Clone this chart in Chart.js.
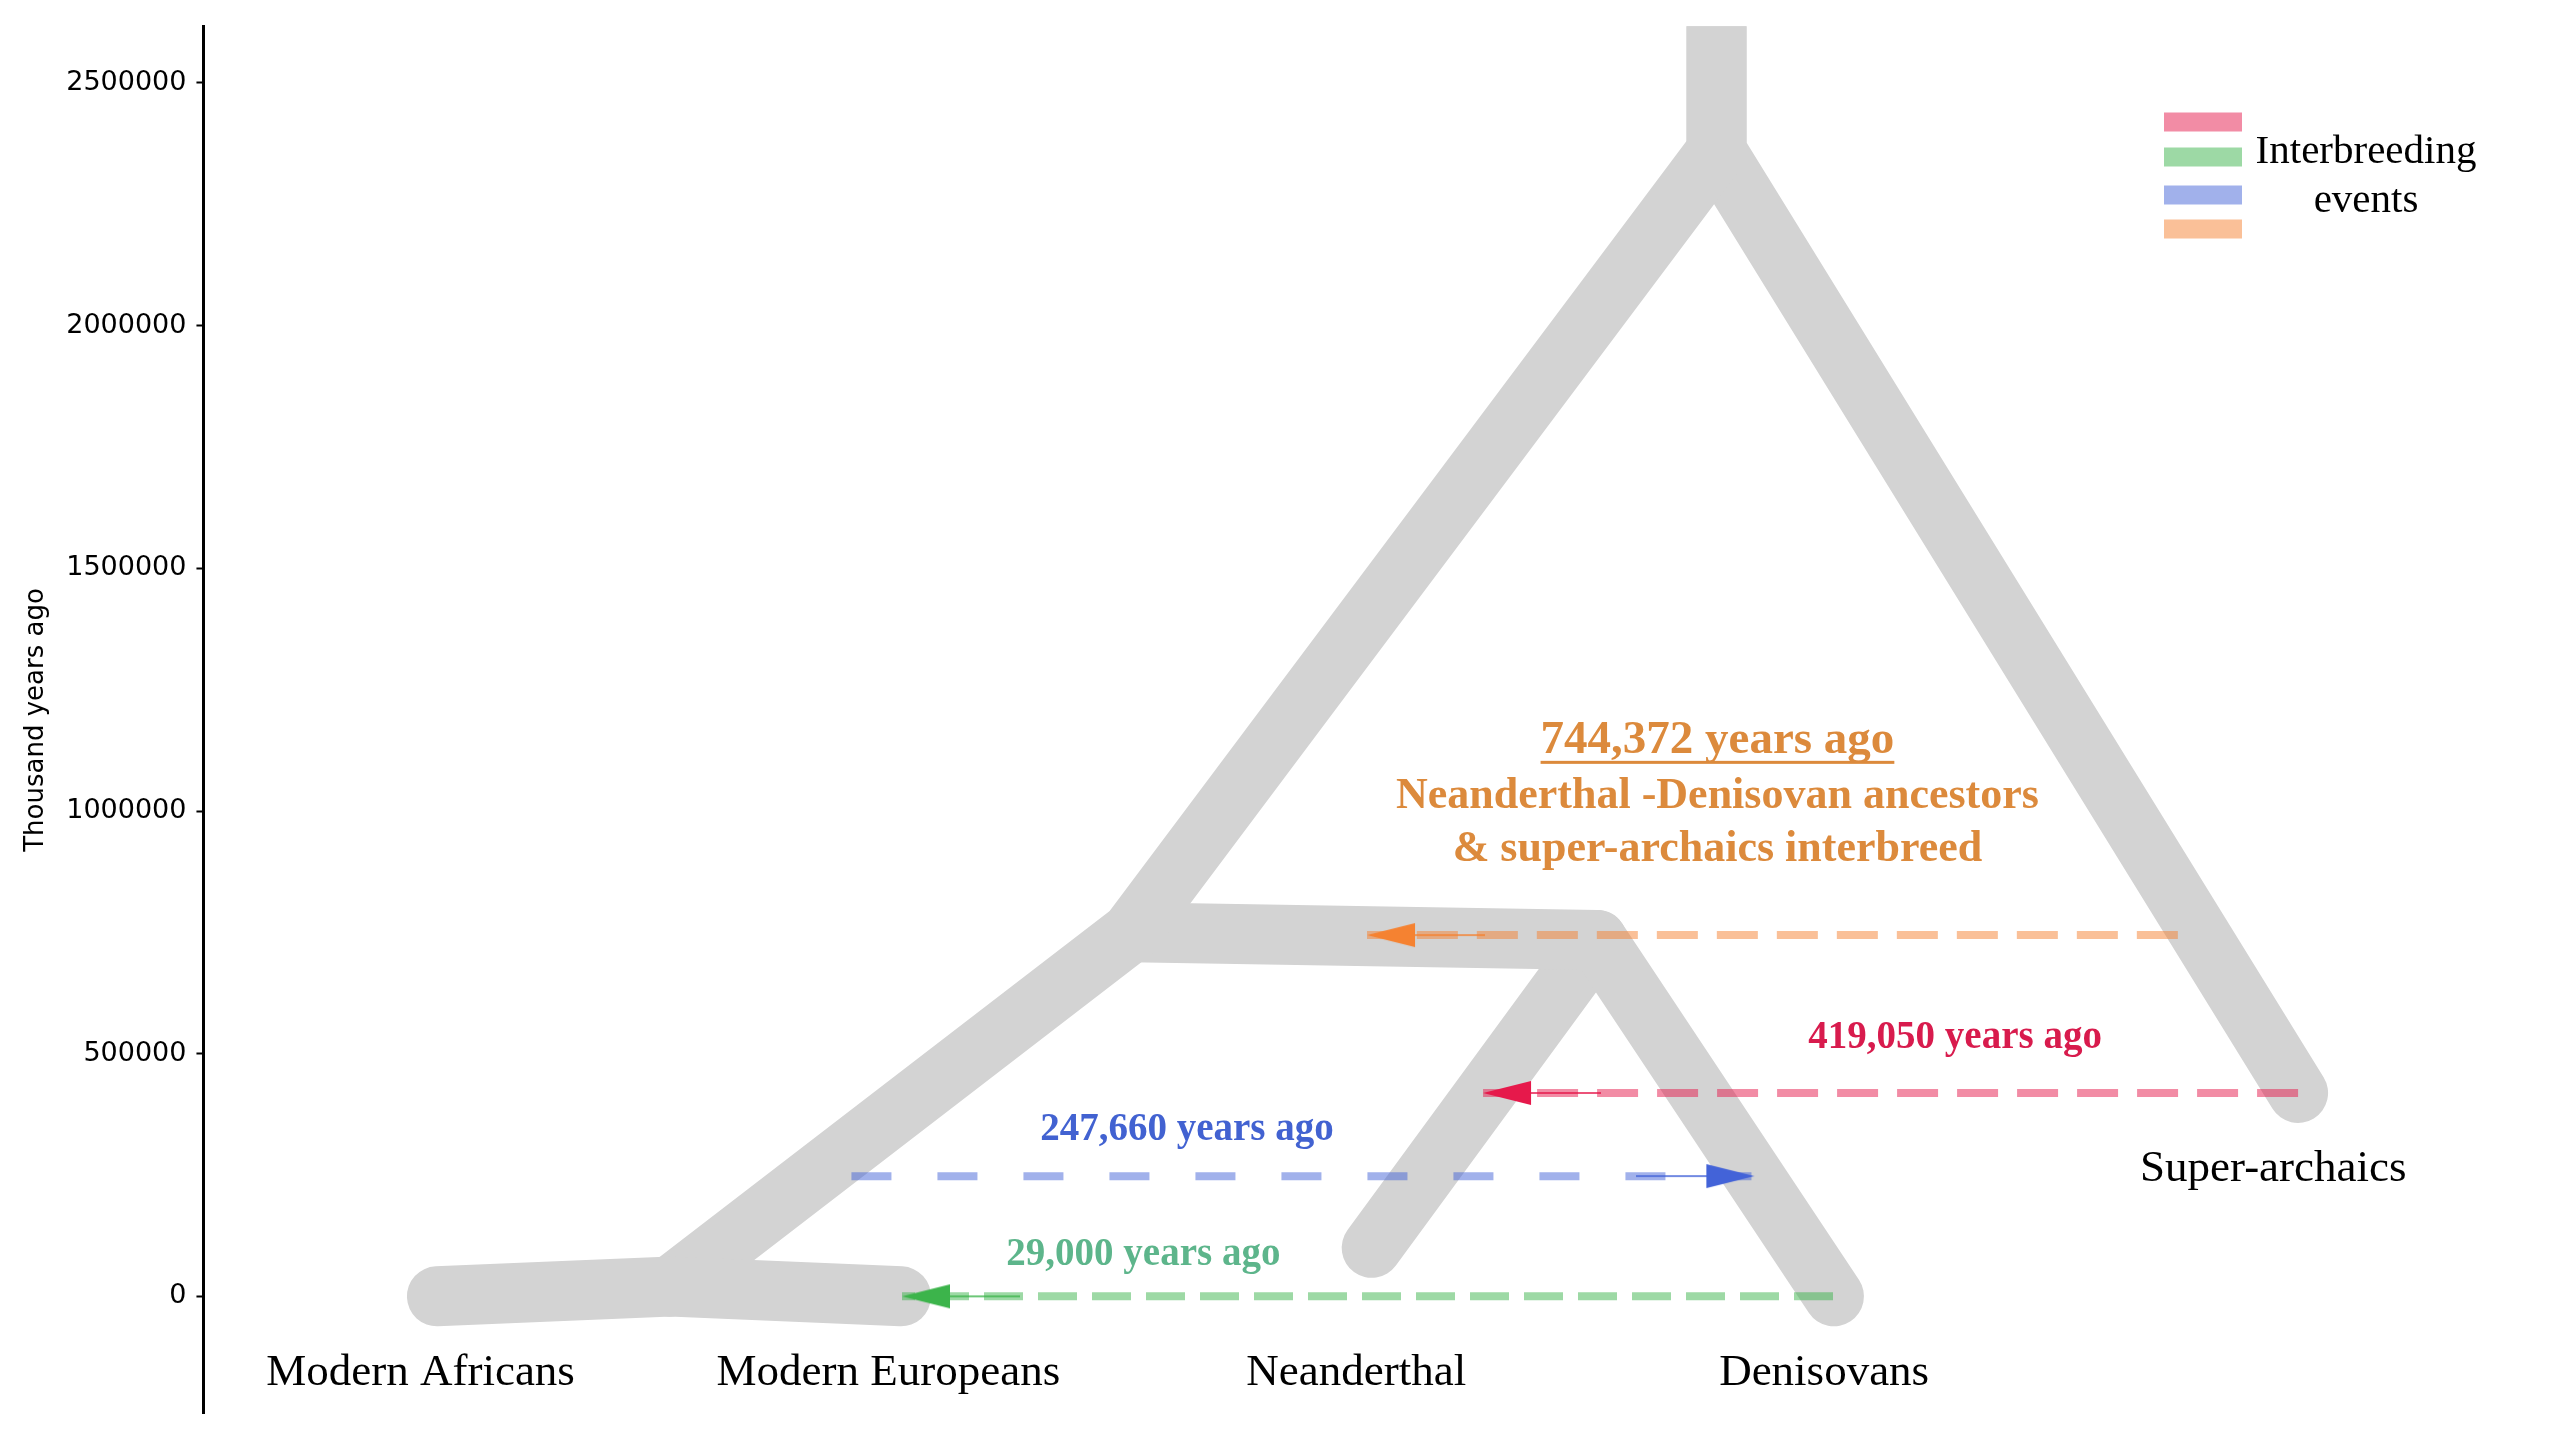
<html lang="en">
<head>
    <meta charset="UTF-8">
    <title>Interbreeding events</title>
    <script src="https://cdn.jsdelivr.net/npm/chart.js"></script>
    <style>
        body { margin: 0; background: #fff; }
        #box { width: 2560px; height: 1440px; }
    </style>
</head>
<body>
<div id="box"><canvas id="myChart"></canvas></div>
<script>
    // populations (x = position along the tree, 1..5)
    var categories = ['Modern Africans', 'Modern Europeans', 'Neanderthal', 'Denisovans', 'Super-archaics'];
    var categoryX = [1, 2, 3, 4, 4.96];
    var categoryLabelY = [-182500, -182500, -182500, -182500, 238000];

    // tree branches, each a list of [x, years ago]
    var branchAE = [[1.035, 0], [1.534, 20000], [2.027, 0]];
    var branchStem = [[1.534, 20000], [2.519, 750000], [3.770, 2360000], [3.770, 2700000]];
    var branchSuper = [[3.770, 2700000], [3.770, 2360000], [5.013, 419050]];
    var branchDenisovan = [[2.519, 750000], [3.515, 734000], [4.021, 0]];
    var branchNeanderthal = [[3.515, 734000], [3.033, 100000]];

    // interbreeding events (orange, red, blue, green)
    var eventLabels = ['744,372 years ago', '419,050 years ago', '247,660 years ago', '29,000 years ago'];
    var eventY = [744372, 419050, 247660, 0];
    var eventFrom = [4.756, 5.013, 1.921, 4.019];
    var eventTo = [3.023, 3.271, 3.851, 2.029];
    var eventColors = ['#f58231', '#e6194b', '#4363d8', '#3cb44b'];
    var eventTextColors = ['#dc8a3c', '#d81b4d', '#4262d1', '#5db58b'];
    var eventDash = [[41, 19], [41, 19], [40, 46], [39, 15]];
    var noteX = [3.772, 4.280, 2.638, 2.545];
    var noteY = [1119800, 510700, 322000, 65600];
    var orangeLines = ['Neanderthal -Denisovan ancestors', '& super-archaics interbreed'];
    var orangeLinesY = [1007000, 896000];

    var yTicks = [0, 500000, 1000000, 1500000, 2000000, 2500000];
    var legendColors = ['#e6194b', '#3cb44b', '#4363d8', '#f58231'];

    function pts(list) {
        return list.map(function (p) { return { x: p[0], y: p[1] }; });
    }

    function alpha(hex, a) {
        var n = parseInt(hex.slice(1), 16);
        return 'rgba(' + (n >> 16) + ',' + ((n >> 8) & 255) + ',' + (n & 255) + ',' + a + ')';
    }

    // arrow head image, tip at the centre, pointing left
    function arrowImage(color) {
        var c = document.createElement('canvas');
        c.width = 236; c.height = 26;
        var g = c.getContext('2d');
        g.fillStyle = color;
        g.beginPath();
        g.moveTo(118, 13); g.lineTo(166, 1); g.lineTo(166, 25); g.closePath();
        g.fill();
        g.strokeStyle = color; g.lineWidth = 1.5;
        g.beginPath(); g.moveTo(166, 13); g.lineTo(236, 13); g.stroke();
        return c;
    }

    var gray = '#d3d3d3';
    function branch(list, join, clip) {
        var d = {
            data: pts(list), showLine: true, borderColor: gray, borderWidth: 60,
            borderCapStyle: 'round', borderJoinStyle: join, pointRadius: 0, order: 3
        };
        if (clip !== undefined) d.clip = clip;
        return d;
    }

    var datasets = [
        branch(branchAE, 'miter'),
        branch(branchStem, 'miter', 0),
        branch(branchSuper, 'miter', 0),
        branch(branchDenisovan, 'round'),
        branch(branchNeanderthal, 'round')
    ];
    for (var i = 0; i < eventY.length; i++) {
        datasets.push({
            data: [{ x: eventFrom[i], y: eventY[i] }, { x: eventTo[i], y: eventY[i] }],
            showLine: true, borderColor: alpha(eventColors[i], 0.5), borderWidth: 8,
            borderDash: eventDash[i], borderCapStyle: 'butt', pointRadius: 0, order: 2
        });
        datasets.push({
            data: [{ x: eventTo[i], y: eventY[i] }],
            showLine: false, pointStyle: arrowImage(eventColors[i]),
            pointRotation: eventTo[i] > eventFrom[i] ? 180 : 0, pointRadius: 5, order: 1
        });
    }

    var notes = {
        id: 'notes',
        afterDatasetsDraw: function (chart) {
            var ctx = chart.ctx, x = chart.scales.x, y = chart.scales.y;
            ctx.save();
            ctx.textAlign = 'center';
            ctx.textBaseline = 'alphabetic';
            ctx.fillStyle = '#000';
            ctx.font = '45px "Liberation Serif"';
            for (var i = 0; i < categories.length; i++) {
                ctx.fillText(categories[i], x.getPixelForValue(categoryX[i]), y.getPixelForValue(categoryLabelY[i]));
            }
            for (var j = 0; j < eventLabels.length; j++) {
                ctx.fillStyle = eventTextColors[j];
                ctx.font = (j === 0 ? 'bold 47px' : 'bold 39px') + ' "Liberation Serif"';
                var px = x.getPixelForValue(noteX[j]), py = y.getPixelForValue(noteY[j]);
                ctx.fillText(eventLabels[j], px, py);
                if (j === 0) {
                    var w = ctx.measureText(eventLabels[j]).width;
                    ctx.fillRect(px - w / 2, py + 8, w, 3);
                    ctx.font = 'bold 44px "Liberation Serif"';
                    for (var k = 0; k < orangeLines.length; k++) {
                        ctx.fillText(orangeLines[k], px, y.getPixelForValue(orangeLinesY[k]));
                    }
                }
            }
            // legend
            var L = chart.chartArea.right;
            var sy = [122, 157, 195, 229];
            for (var m = 0; m < legendColors.length; m++) {
                ctx.fillStyle = alpha(legendColors[m], 0.5);
                ctx.fillRect(L - 390, sy[m] - 9.5, 78, 19);
            }
            ctx.fillStyle = '#000';
            ctx.font = '41px "Liberation Serif"';
            ctx.fillText('Interbreeding', L - 188, 163);
            ctx.fillText('events', L - 188, 212);
            ctx.restore();
        }
    };

    new Chart(document.getElementById('myChart'), {
        type: 'scatter',
        data: { datasets: datasets },
        options: {
            responsive: true,
            maintainAspectRatio: false,
            devicePixelRatio: 1,
            animation: false,
            events: [],
            layout: { padding: { top: 23, bottom: 23, left: 0, right: 0 } },
            plugins: { legend: { display: false }, tooltip: { enabled: false } },
            scales: {
                x: { type: 'linear', display: false, min: 0.536, max: 5.56 },
                y: {
                    type: 'linear', min: -242000, max: 2617000,
                    afterBuildTicks: function (scale) {
                        scale.ticks = yTicks.map(function (v) { return { value: v }; });
                    },
                    border: { display: true, color: '#000', width: 3 },
                    grid: { display: true, drawOnChartArea: false, drawTicks: true, tickLength: 7, tickColor: '#000', tickWidth: 2 },
                    ticks: {
                        color: '#000', padding: 10,
                        font: { family: 'DejaVu Sans', size: 27 },
                        callback: function (v) { return String(v); }
                    },
                    title: {
                        display: true, text: 'Thousand years ago', color: '#000',
                        font: { family: 'DejaVu Sans', size: 26 },
                        padding: { top: 21, bottom: 4 }
                    }
                }
            }
        },
        plugins: [notes]
    });
</script>
</body>
</html>
